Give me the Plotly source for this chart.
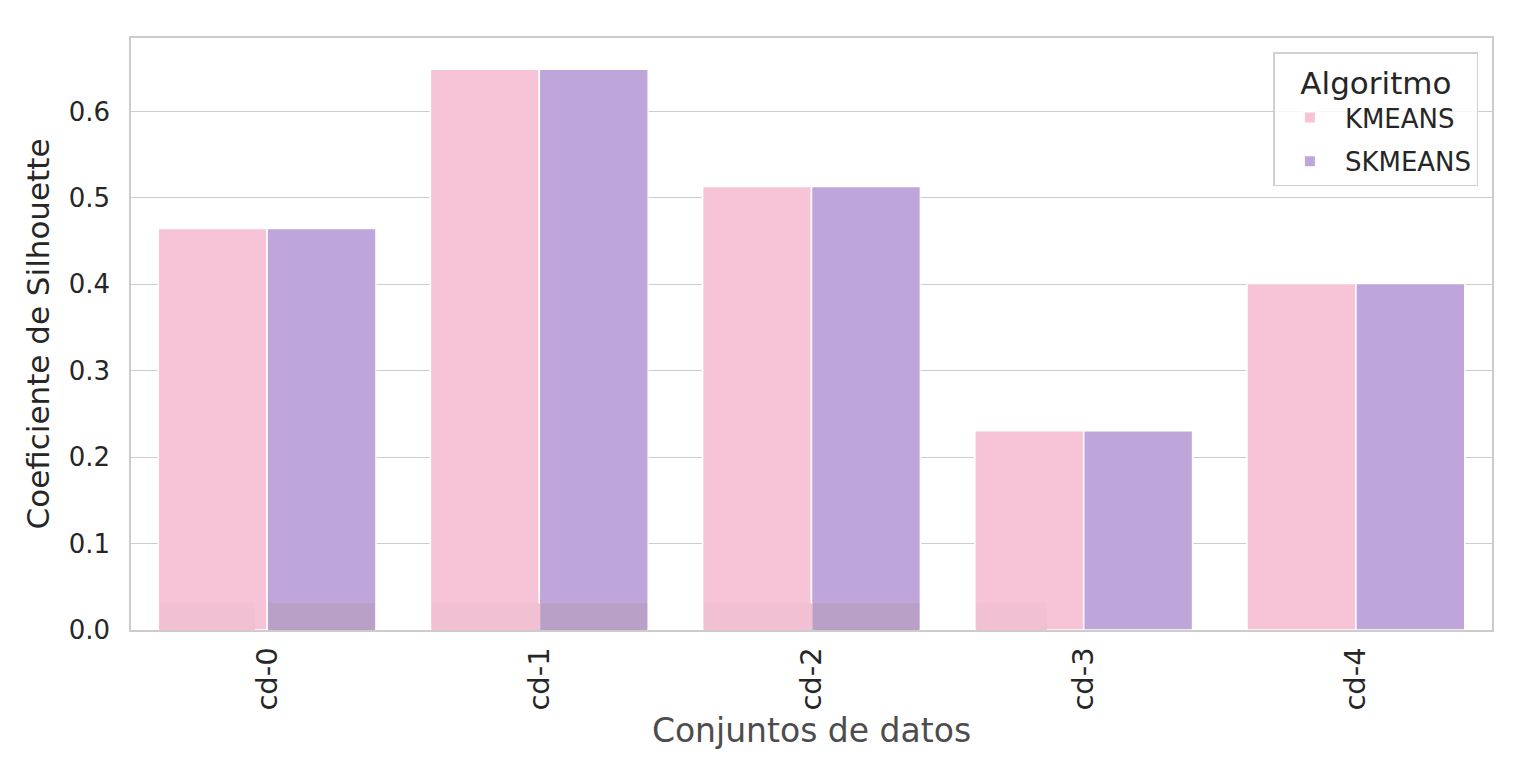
import plotly.graph_objects as go

categories = ["cd-0", "cd-1", "cd-2", "cd-3", "cd-4"]
kmeans = [0.4645, 0.6487, 0.5131, 0.2305, 0.4008]
skmeans = [0.4645, 0.6487, 0.5131, 0.2305, 0.4008]
# faint low overlay layer visible at the bottom of the bars
kmeans_low = [0.031, 0.031, 0.031, 0.031, 0.0]
kmeans_low_width = [0.35, 0.4, 0.4, 0.26, 0.0]
skmeans_low = [0.031, 0.031, 0.031, 0.0, 0.0]

C_K = "#F6C3D7"
C_S = "#BEA6DB"
C_K_LOW = "#F2C0D3"
C_S_LOW = "#B9A0C6"

fig = go.Figure()
fig.add_trace(go.Bar(x=categories, y=kmeans, name="KMEANS", width=0.4, offset=-0.4,
                     legendgroup="k",
                     marker=dict(color=C_K, line=dict(color="white", width=1.5))))
fig.add_trace(go.Bar(x=categories, y=skmeans, name="SKMEANS", width=0.4, offset=0.0,
                     legendgroup="s",
                     marker=dict(color=C_S, line=dict(color="white", width=1.5))))
fig.add_trace(go.Bar(x=categories, y=kmeans_low, width=kmeans_low_width, offset=-0.395,
                     marker=dict(color=C_K_LOW, line=dict(width=0)), showlegend=False,
                     hoverinfo="skip"))
fig.add_trace(go.Bar(x=categories, y=skmeans_low, width=0.392, offset=0.004,
                     marker=dict(color=C_S_LOW, line=dict(width=0)), showlegend=False,
                     hoverinfo="skip"))

fig.update_layout(
    width=1505, height=752,
    barmode="overlay",
    paper_bgcolor="white", plot_bgcolor="white",
    margin=dict(l=123, r=21, t=30, b=130),
    font=dict(family="DejaVu Sans", color="#262626"),
    showlegend=True,
    legend=dict(
        title=dict(text="Algoritmo", font=dict(size=31, color="#262626"), side="top center"),
        font=dict(size=26, color="#262626"),
        x=0.99, y=0.976, xanchor="right", yanchor="top",
        bgcolor="rgba(255,255,255,0.8)", bordercolor="#d0d0d0", borderwidth=1.5,
        itemsizing="constant", itemwidth=60,
        entrywidth=172, entrywidthmode="pixels",
        tracegroupgap=7,
    ),
    xaxis=dict(
        range=[-0.5, 4.5], tickangle=-90, tickfont=dict(size=29, color="#262626"),
        showline=True, mirror=True, linecolor="#cccccc", linewidth=1.5,
        showgrid=False, ticks="", ticklabelstandoff=4,
        title=dict(text="Conjuntos de datos", font=dict(size=33, color="#4d4d4d"), standoff=4),
    ),
    yaxis=dict(
        range=[0, 0.685], tickvals=[0, 0.1, 0.2, 0.3, 0.4, 0.5, 0.6],
        ticktext=["0.0", "0.1", "0.2", "0.3", "0.4", "0.5", "0.6"],
        tickfont=dict(size=26, color="#262626"),
        showline=True, mirror=True, linecolor="#cccccc", linewidth=1.5,
        showgrid=True, gridcolor="#cccccc", gridwidth=1.4, zeroline=False, ticks="",
        ticklabelstandoff=14,
        title=dict(text="Coeficiente de Silhouette", font=dict(size=31, color="#262626"), standoff=10),
    ),
)

fig.write_html("out.html")
